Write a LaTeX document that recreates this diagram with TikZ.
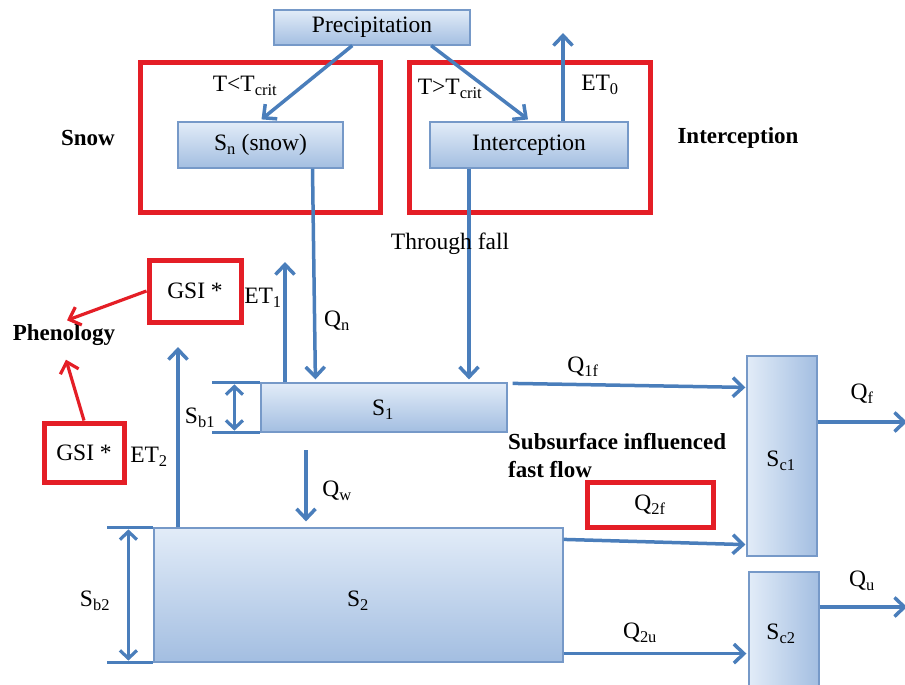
\documentclass[tikz,border=0pt]{standalone}
\usepackage{fontspec}
\setmainfont{Liberation Serif}
\usetikzlibrary{arrows.meta,calc}

\definecolor{flowblue}{RGB}{74,126,187}
\definecolor{markred}{RGB}{228,30,38}
\definecolor{boxtop}{RGB}{226,236,248}
\definecolor{boxbot}{RGB}{163,190,225}
\definecolor{boxedge}{RGB}{118,153,200}

\tikzset{
  store/.style={draw=boxedge, line width=1.2pt, top color=boxtop, bottom color=boxbot, inner sep=0pt},
  tank/.style={draw=boxedge, line width=1.2pt, left color=boxtop, right color=boxbot, inner sep=0pt},
  redbox/.style={draw=markred, line width=5pt, inner sep=0pt},
  flow/.style={flowblue, line width=3.5pt, -{Straight Barb[length=10pt,width=19pt]}},
  redflow/.style={markred, line width=3.2pt, -{Straight Barb[length=10pt,width=19pt]}},
  dimline/.style={flowblue, line width=3.2pt},
  dimarrow/.style={flowblue, line width=3.2pt, {Straight Barb[length=8pt,width=17pt]}-{Straight Barb[length=8pt,width=17pt]}},
  lbl/.style={inner sep=0pt},
  heading/.style={inner sep=0pt, font=\fontsize{23}{28}\selectfont\bfseries}
}

\begin{document}
\begin{tikzpicture}[x=1pt, y=-1pt, font=\fontsize{23.5}{27}\selectfont]
			%%%%% FRAME %%%%%
			\useasboundingbox (0,0) rectangle (905,685);
			
			%%%%% STORES %%%%%
			\node[store, minimum width=196pt, minimum height=35pt] (prec) at (372,27.5) {Precipitation};
			\node[store, minimum width=165pt, minimum height=46pt] (sn) at (260.5,145) {S\textsubscript{n} (snow)};
			\node[store, minimum width=198pt, minimum height=46pt] (icpt) at (529,145) {Interception};
			\node[store, minimum width=246pt, minimum height=49pt] (s1) at (384,407.5) {};
			\node[store, minimum width=409pt, minimum height=134pt] (s2) at (358.5,595) {};
			\node[tank, minimum width=70pt, minimum height=200pt] (sc1) at (782,456) {};
			\node[tank, minimum width=70pt, minimum height=118pt] (sc2) at (784,631) {};
			
			\node[lbl] (s1lbl) at (383,410) {S\textsubscript{1}};
			\node[lbl] (s2lbl) at (358,601) {S\textsubscript{2}};
			\node[lbl] (sc1lbl) at (781,461) {S\textsubscript{c1}};
			\node[lbl] (sc2lbl) at (781,634) {S\textsubscript{c2}};
			
			%%%%% RED MARKS %%%%%
			\node[redbox, minimum width=240pt, minimum height=149pt] (snowframe) at (260,137.5) {};
			\node[redbox, minimum width=241pt, minimum height=149pt] (icptframe) at (529.5,137.5) {};
			\node[redbox, minimum width=92pt, minimum height=62pt] (gsitop) at (195,291) {GSI *};
			\node[redbox, minimum width=80pt, minimum height=59pt] (gsilow) at (84,452.5) {GSI *};
			\node[redbox, minimum width=126pt, minimum height=45pt] (q2fbox) at (650,504.5) {Q\textsubscript{2f}};
			
			\node[heading] (snow) at (88,138) {Snow};
			\node[heading] (icpthead) at (738,138) {Interception};
			\node[heading] (phen) at (64,335) {Phenology};
			\node[heading, anchor=north west, align=left] (ssf) at (508,433) {Subsurface influenced\\fast flow};
			
			\draw[redflow] (gsitop.west) -- ($(phen.north)+(3,-4)$);
			\draw[redflow] (gsilow.north) -- ($(phen.south)+(2,14)$);
			
			%%%%% FLUXES %%%%%
			\coordinate (et0) at (563,33);
			\coordinate (et1) at (285,262);
			\coordinate (et2) at (178,347);
			\coordinate (qwtop) at (306,450);
			\coordinate (tf) at ($(icpt.south)+(-60,0)$);
			\coordinate (q2u) at ($(s2.south east)+(0,-9)$);
			\coordinate (qfout) at (907,422);
			\coordinate (quout) at (907,607);
			
			\draw[flow] ($(prec.south west)!0.4!(prec.south east)$) -- ($(sn.north)+(1,-2)$);
			\draw[flow] ($(prec.south west)!0.8!(prec.south east)$) -- ($(icpt.north)+(-1,-2)$);
			\draw[flow] (icpt.north -| et0) -- (et0);
			\draw[flow] ($(sn.south)+(52,0)$) -- ($(s1.north west)+(55,-3)$);
			\draw[flow] (tf) -- ($(s1.north -| tf)+(0,-3)$);
			\draw[flow] (s1.north -| et1) -- (et1);
			\draw[flow] (s2.north -| et2) -- (et2);
			\draw[flow] (qwtop) -- ($(qwtop |- s2.north)+(0,-6)$);
			\draw[flow] ($(s1.north east)+(5,1)$) -- ($(sc1.north west)+(-1,32)$);
			\draw[flow] ($(s2.north east)+(0,12)$) -- ($(sc1.south west)+(-1,-12)$);
			\draw[flow] (q2u) -- ($(q2u -| sc2.west)+(-2,0)$);
			\draw[flow] (sc1.east |- qfout) -- (qfout);
			\draw[flow] (sc2.east |- quout) -- (quout);
			
			\node[lbl] (tlow) at (245,86) {T<T\textsubscript{crit}};
			\node[lbl] (thigh) at (450,89) {T>T\textsubscript{crit}};
			\node[lbl] (et0lbl) at (600,85) {ET\textsubscript{0}};
			\node[lbl] (tflbl) at (450,244) {Through fall};
			\node[lbl] (et1lbl) at (263,298) {ET\textsubscript{1}};
			\node[lbl] (et2lbl) at (149,457) {ET\textsubscript{2}};
			\node[lbl] (qnlbl) at (337,321) {Q\textsubscript{n}};
			\node[lbl] (qwlbl) at (337,491) {Q\textsubscript{w}};
			\node[lbl] (q1flbl) at (583,367) {Q\textsubscript{1f}};
			\node[lbl] (qflbl) at (862,394) {Q\textsubscript{f}};
			\node[lbl] (q2ulbl) at (640,633) {Q\textsubscript{2u}};
			\node[lbl] (qulbl) at (862,581) {Q\textsubscript{u}};
			
			%%%%% STORAGE DEPTHS %%%%%
			\draw[dimline] ($(s1.north west)+(-48,0)$) -- (s1.north west);
			\draw[dimline] ($(s1.south west)+(-48,0)$) -- (s1.south west);
			\draw[dimarrow] ($(s1.north west)+(-26,2)$) -- ($(s1.south west)+(-26,-2)$);
			\node[lbl] (sb1lbl) at (200,418) {S\textsubscript{b1}};
			
			\draw[dimline] ($(s2.north west)+(-46,0)$) -- (s2.north west);
			\draw[dimline] ($(s2.south west)+(-46,0)$) -- (s2.south west);
			\draw[dimarrow] ($(s2.north west)+(-25,2)$) -- ($(s2.south west)+(-25,-2)$);
			\node[lbl] (sb2lbl) at (95,601) {S\textsubscript{b2}};
			
			%%%%% END %%%%%
\end{tikzpicture}
\end{document}
